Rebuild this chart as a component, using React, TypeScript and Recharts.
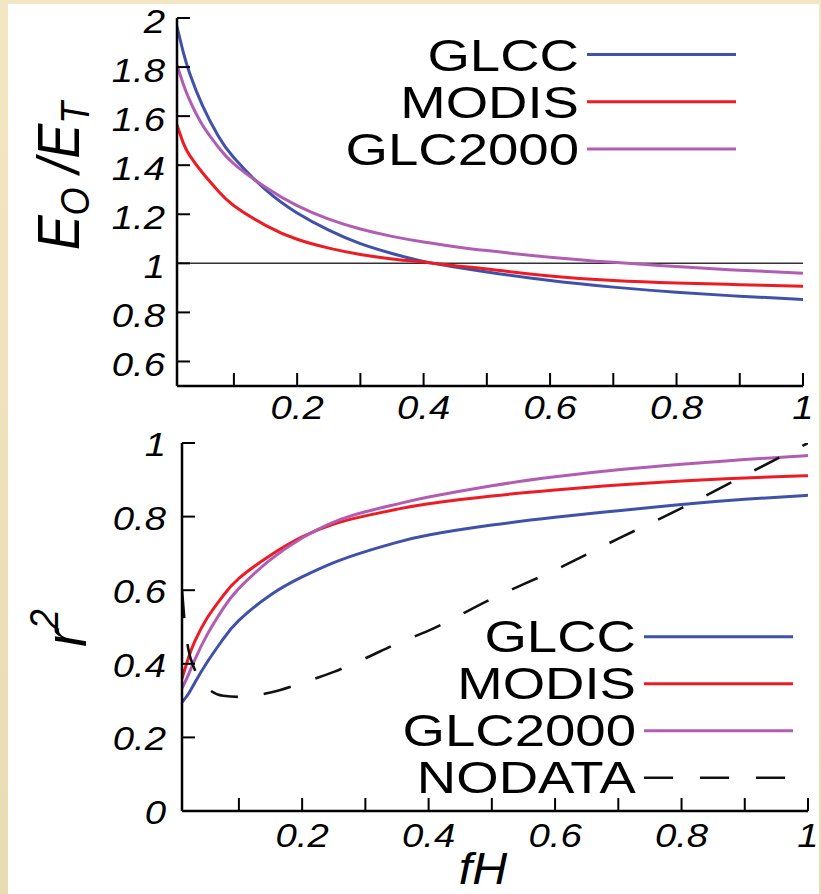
import React from "react";
import { LineChart, Line, XAxis, YAxis, ReferenceLine, Legend } from "recharts";

// ---- data ----
const topFH = [0.01, 0.02, 0.03, 0.05, 0.075, 0.1, 0.15, 0.2, 0.25, 0.3, 0.35, 0.4, 0.45, 0.5, 0.6, 0.7, 0.8, 0.9, 1.0];
const topGLCC = [1.965, 1.86, 1.775, 1.645, 1.52, 1.43, 1.3, 1.205, 1.135, 1.08, 1.04, 1.008, 0.985, 0.965, 0.93, 0.903, 0.882, 0.866, 0.853];
const topMODIS = [1.564, 1.49, 1.44, 1.37, 1.295, 1.235, 1.155, 1.098, 1.062, 1.036, 1.018, 1.005, 0.99, 0.977, 0.948, 0.93, 0.92, 0.913, 0.907];
const topGLC2000 = [1.808, 1.73, 1.665, 1.565, 1.475, 1.405, 1.31, 1.235, 1.18, 1.14, 1.11, 1.087, 1.068, 1.052, 1.025, 1.004, 0.987, 0.972, 0.96];

const botFH = [0.01, 0.02, 0.03, 0.05, 0.075, 0.1, 0.15, 0.2, 0.25, 0.3, 0.35, 0.4, 0.5, 0.6, 0.7, 0.8, 0.9, 1.0];
const botGLCC = [0.295, 0.318, 0.348, 0.405, 0.467, 0.518, 0.587, 0.636, 0.675, 0.705, 0.73, 0.75, 0.777, 0.798, 0.816, 0.833, 0.847, 0.858];
const botMODIS = [0.36, 0.415, 0.46, 0.525, 0.585, 0.632, 0.695, 0.745, 0.78, 0.802, 0.82, 0.835, 0.856, 0.872, 0.886, 0.897, 0.905, 0.911];
const botGLC2000 = [0.333, 0.37, 0.41, 0.48, 0.55, 0.605, 0.683, 0.742, 0.785, 0.813, 0.834, 0.853, 0.884, 0.908, 0.927, 0.942, 0.955, 0.966];

const nodataFH = [0.01, 0.015, 0.02, 0.03, 0.05, 0.075, 0.1, 0.15, 0.2, 0.25, 0.3, 0.35, 0.4, 0.5, 0.6, 0.7, 0.8, 0.9, 1.0];
const nodataR2 = [0.6, 0.5, 0.44, 0.385, 0.335, 0.313, 0.31, 0.322, 0.348, 0.378, 0.415, 0.455, 0.49, 0.577, 0.655, 0.74, 0.823, 0.912, 1.0];

const xTicks = [0.1, 0.2, 0.3, 0.4, 0.5, 0.6, 0.7, 0.8, 0.9, 1];
const xTickLabels = ["", "0.2", "", "0.4", "", "0.6", "", "0.8", "", "1"];
const topYTicks = [0.6, 0.8, 1, 1.2, 1.4, 1.6, 1.8, 2];
const botYTicks = [0, 0.2, 0.4, 0.6, 0.8, 1];

const seriesNames = ["GLCC", "MODIS", "GLC2000", "NODATA"];
const seriesColors = ["#3f51a8", "#ed1c24", "#b15db3", "#111111"];
const NODATA_DASH = "28 26";

const toPoints = (xs: number[], ys: number[]) => xs.map((x, i) => ({ x, v: ys[i] }));

const FONT = "'Liberation Sans', Arial, Helvetica, sans-serif";
const TICK_STRETCH = 1.16;
const TITLE_STRETCH = 1.15;

// ---- ticks ----
function XTick(props: any) {
  const { x, y, payload, dir, labelDy } = props;
  const label = labelDy ? xTickLabels[xTicks.indexOf(payload.value)] : "";
  return (
    <g>
      <line x1={x} x2={x} y1={y} y2={y + dir * 13} stroke="#000" strokeWidth={2} />
      {label ? (
        <text
          transform={`translate(${x},${y + labelDy}) scale(${TICK_STRETCH},1)`}
          textAnchor="middle"
          fontFamily={FONT}
          fontStyle="italic"
          fontSize={33}
          fill="#000"
        >
          {label}
        </text>
      ) : null}
    </g>
  );
}

function YTick(props: any) {
  const { x, y, payload, dir, gap, dy } = props;
  return (
    <g>
      <line x1={x} x2={x + dir * 13} y1={y} y2={y} stroke="#000" strokeWidth={2} />
      {gap ? (
        <text
          transform={`translate(${x - gap},${y + dy}) scale(${TICK_STRETCH},1)`}
          textAnchor="end"
          fontFamily={FONT}
          fontStyle="italic"
          fontSize={33}
          fill="#000"
        >
          {String(payload.value)}
        </text>
      ) : null}
    </g>
  );
}

// ---- axis titles ----
function EoTitle() {
  return (
    <text
      transform={`translate(79,176) scale(${TITLE_STRETCH},1) rotate(-90)`}
      textAnchor="middle"
      fontFamily={FONT}
      fontStyle="italic"
      fontSize={52}
      fill="#000"
    >
      <tspan>E</tspan>
      <tspan dy={9} fontSize={36}>O</tspan>
      <tspan dy={-9}> /E</tspan>
      <tspan dy={9} fontSize={36}>T</tspan>
    </text>
  );
}

function R2Title() {
  return (
    <text
      transform={`translate(86,203) scale(${TITLE_STRETCH},1) rotate(-90)`}
      textAnchor="middle"
      fontFamily={FONT}
      fontStyle="italic"
      fontSize={52}
      fill="#000"
    >
      <tspan>r</tspan>
      <tspan dy={-24} fontSize={36}>2</tspan>
    </text>
  );
}

function FhTitle() {
  return (
    <text
      transform={`translate(483,459) scale(1.1,1)`}
      textAnchor="middle"
      fontFamily={FONT}
      fontStyle="italic"
      fontSize={44}
      fill="#000"
    >
      fH
    </text>
  );
}

// ---- legend ----
function LegendBox(props: any) {
  const { payload, textX, lineX1, lineX2, firstY, stepY, textDy } = props;
  const items = [...(payload || [])].sort(
    (a: any, b: any) => seriesNames.indexOf(a.value) - seriesNames.indexOf(b.value)
  );
  return (
    <svg
      width={821}
      height={480}
      style={{ position: "absolute", left: 0, top: 0, overflow: "visible", pointerEvents: "none" }}
    >
      {items.map((entry: any, i: number) => {
        const k = seriesNames.indexOf(entry.value);
        const y = firstY + i * stepY;
        const dashed = entry.value === "NODATA";
        return (
          <g key={entry.value}>
            <text
              transform={`translate(${textX},${y + textDy}) scale(1.24,1)`}
              textAnchor="end"
              fontFamily={FONT}
              fontSize={44}
              fill="#000"
            >
              {entry.value}
            </text>
            <line
              x1={lineX1}
              x2={dashed ? lineX2 - 7 : lineX2}
              y1={y}
              y2={y}
              stroke={seriesColors[k]}
              strokeWidth={dashed ? 2.6 : 3}
              strokeDasharray={dashed ? "29 27" : undefined}
            />
          </g>
        );
      })}
    </svg>
  );
}

const frame = { stroke: "#000", strokeWidth: 2.5 };

export default function App() {
  return (
    <div
      style={{
        position: "absolute",
        left: 0,
        top: 0,
        width: 821,
        height: 894,
        overflow: "hidden",
        background: "linear-gradient(to bottom, #f3e6c2, #e9dcb3)",
      }}
    >
      <div style={{ position: "absolute", left: 8, top: 4, width: 811, height: 890, background: "#fff" }} />

      {/* upper panel: E_O / E_T */}
      <div style={{ position: "absolute", left: 0, top: 0 }}>
        <LineChart width={821} height={440} margin={{ top: 18, right: 18, bottom: 10, left: 0 }}>
          <XAxis
            xAxisId="b"
            dataKey="x"
            type="number"
            domain={[0.01, 1]}
            allowDataOverflow
            ticks={xTicks}
            interval={0}
            height={44}
            tickSize={0}
            tickMargin={0}
            tickLine={false}
            axisLine={frame}
            tick={(p: any) => <XTick {...p} dir={-1} labelDy={33} />}
          />
          <XAxis
            xAxisId="t"
            orientation="top"
            dataKey="x"
            type="number"
            domain={[0.01, 1]}
            allowDataOverflow
            ticks={xTicks}
            interval={0}
            height={0}
            tickSize={0}
            tickMargin={0}
            tickLine={false}
            axisLine={frame}
            tick={(p: any) => <XTick {...p} dir={1} labelDy={0} />}
          />
          <YAxis
            yAxisId="l"
            type="number"
            domain={[0.5, 2]}
            allowDataOverflow
            ticks={topYTicks}
            interval={0}
            width={177}
            tickSize={0}
            tickMargin={0}
            tickLine={false}
            axisLine={frame}
            tick={(p: any) => <YTick {...p} dir={1} gap={12} dy={15} />}
            label={<EoTitle />}
          />
          <YAxis
            yAxisId="r"
            orientation="right"
            type="number"
            domain={[0.5, 2]}
            allowDataOverflow
            ticks={topYTicks}
            interval={0}
            width={0}
            tickSize={0}
            tickMargin={0}
            tickLine={false}
            axisLine={frame}
            tick={(p: any) => <YTick {...p} dir={-1} gap={0} dy={0} />}
          />
          <ReferenceLine xAxisId="b" yAxisId="l" y={1} stroke="#333" strokeWidth={1.5} />
          <Line xAxisId="b" yAxisId="l" name="GLCC" data={toPoints(topFH, topGLCC)} dataKey="v" type="natural"
            stroke={seriesColors[0]} strokeWidth={3} dot={false} isAnimationActive={false} />
          <Line xAxisId="b" yAxisId="l" name="MODIS" data={toPoints(topFH, topMODIS)} dataKey="v" type="natural"
            stroke={seriesColors[1]} strokeWidth={3} dot={false} isAnimationActive={false} />
          <Line xAxisId="b" yAxisId="l" name="GLC2000" data={toPoints(topFH, topGLC2000)} dataKey="v" type="natural"
            stroke={seriesColors[2]} strokeWidth={3} dot={false} isAnimationActive={false} />
          <Legend
            layout="horizontal"
            verticalAlign="middle"
            align="center"
            wrapperStyle={{ left: 0, top: 0, width: 0, height: 0 }}
            content={(p: any) => (
              <LegendBox payload={p.payload} textX={579} lineX1={587} lineX2={736} firstY={54.5} stepY={47.3} textDy={16} />
            )}
          />
        </LineChart>
      </div>

      {/* lower panel: r^2 */}
      <div style={{ position: "absolute", left: 0, top: 425 }}>
        <LineChart width={821} height={469} margin={{ top: 18, right: 13, bottom: 39, left: 0 }}>
          <XAxis
            xAxisId="b"
            dataKey="x"
            type="number"
            domain={[0.01, 1]}
            allowDataOverflow
            ticks={xTicks}
            interval={0}
            height={44}
            tickSize={0}
            tickMargin={0}
            tickLine={false}
            axisLine={frame}
            tick={(p: any) => <XTick {...p} dir={-1} labelDy={36} />}
            label={<FhTitle />}
          />
          <XAxis
            xAxisId="t"
            orientation="top"
            dataKey="x"
            type="number"
            domain={[0.01, 1]}
            allowDataOverflow
            ticks={xTicks}
            interval={0}
            height={0}
            tickSize={0}
            tickMargin={0}
            tickLine={false}
            axisLine={frame}
            tick={(p: any) => <XTick {...p} dir={1} labelDy={0} />}
          />
          <YAxis
            yAxisId="l"
            type="number"
            domain={[0, 1]}
            allowDataOverflow
            ticks={botYTicks}
            interval={0}
            width={182}
            tickSize={0}
            tickMargin={0}
            tickLine={false}
            axisLine={frame}
            tick={(p: any) => <YTick {...p} dir={1} gap={16} dy={13} />}
            label={<R2Title />}
          />
          <YAxis
            yAxisId="r"
            orientation="right"
            type="number"
            domain={[0, 1]}
            allowDataOverflow
            ticks={botYTicks}
            interval={0}
            width={0}
            tickSize={0}
            tickMargin={0}
            tickLine={false}
            axisLine={frame}
            tick={(p: any) => <YTick {...p} dir={-1} gap={0} dy={0} />}
          />
          <Line xAxisId="b" yAxisId="l" name="GLCC" data={toPoints(botFH, botGLCC)} dataKey="v" type="natural"
            stroke={seriesColors[0]} strokeWidth={3} dot={false} isAnimationActive={false} />
          <Line xAxisId="b" yAxisId="l" name="MODIS" data={toPoints(botFH, botMODIS)} dataKey="v" type="natural"
            stroke={seriesColors[1]} strokeWidth={3} dot={false} isAnimationActive={false} />
          <Line xAxisId="b" yAxisId="l" name="GLC2000" data={toPoints(botFH, botGLC2000)} dataKey="v" type="natural"
            stroke={seriesColors[2]} strokeWidth={3} dot={false} isAnimationActive={false} />
          <Line xAxisId="b" yAxisId="l" name="NODATA" data={toPoints(nodataFH, nodataR2)} dataKey="v" type="monotone"
            stroke={seriesColors[3]} strokeWidth={2.6} strokeDasharray={NODATA_DASH} dot={false} isAnimationActive={false} />
          <Legend
            layout="horizontal"
            verticalAlign="middle"
            align="center"
            wrapperStyle={{ left: 0, top: 0, width: 0, height: 0 }}
            content={(p: any) => (
              <LegendBox payload={p.payload} textX={636} lineX1={644} lineX2={793} firstY={211.7} stepY={47} textDy={15.5} />
            )}
          />
        </LineChart>
      </div>
    </div>
  );
}
